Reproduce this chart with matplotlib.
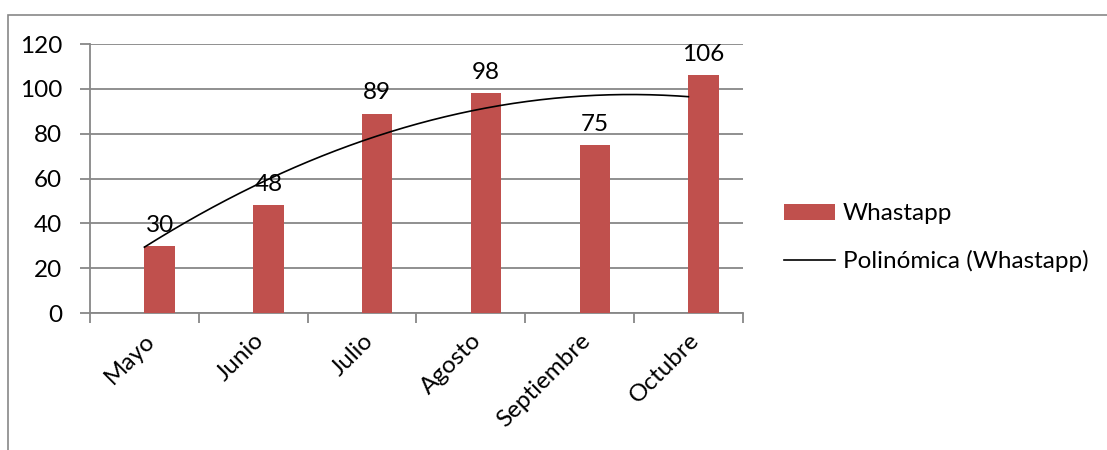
import matplotlib.pyplot as plt
import matplotlib.patches as mpatches
import numpy as np

plt.rcParams['font.family'] = ['Lato', 'DejaVu Sans']

meses = ["Mayo", "Junio", "Julio", "Agosto", "Septiembre", "Octubre"]
whastapp = [30, 48, 89, 98, 75, 106]

rojo = "#C0504D"
gris = "#878787"
fs = 17.5

fig = plt.figure(figsize=(11.07, 4.5), dpi=100)
ax = fig.add_axes([0.0813, 0.3044, 0.5897, 0.5976])

x = np.arange(len(meses))
ancho = 0.28
# bars sit just right of the category centre, like Excel does here
barras = ax.bar(x + ancho / 2, whastapp, width=ancho, color=rojo, label="Whastapp", zorder=3)
for xi, v in zip(x, whastapp):
    ax.text(xi + ancho / 2, v + 4.5, str(v), ha="center", va="bottom", fontsize=fs)

# polynomial trendline (order 2)
coef = np.polyfit(x, whastapp, 2)
xs = np.linspace(x[0], x[-1], 200)
linea, = ax.plot(xs, np.polyval(coef, xs), color="black", lw=1.2, label="Polinómica (Whastapp)", zorder=4)

ax.set_xlim(-0.5, len(meses) - 0.5)
ax.set_ylim(0, 120)
ax.set_yticks(range(0, 121, 20))
ax.set_xticks(x)
ax.set_xticklabels(meses, rotation=45, ha="right", rotation_mode="anchor", fontsize=fs)
ax.set_xticks(np.arange(-0.5, len(meses), 1), minor=True)
ax.tick_params(axis="x", which="major", length=0, pad=12)
ax.tick_params(axis="x", which="minor", length=7, color=gris, width=1.3)
ax.tick_params(axis="y", length=7, color=gris, width=1.3, labelsize=fs, pad=13)
ax.grid(axis="y", color=gris, lw=1.3, zorder=0)
for lado in ["top", "right"]:
    ax.spines[lado].set_visible(False)
for lado in ["left", "bottom"]:
    ax.spines[lado].set_color(gris)
    ax.spines[lado].set_linewidth(1.3)

ax.legend([barras, linea], ["Whastapp", "Polinómica (Whastapp)"],
          loc="center left", bbox_to_anchor=(1.03, 0.28), frameon=False, fontsize=fs,
          handlelength=2.1, handleheight=0.6, handletextpad=0.3, labelspacing=1.05)

borde = mpatches.Rectangle((8 / 1107, -0.2), 1.2, (450 - 15) / 450 + 0.2, transform=fig.transFigure,
                           fill=False, edgecolor=gris, lw=1.2)
fig.patches.append(borde)

fig.savefig("out.png", dpi=100)
